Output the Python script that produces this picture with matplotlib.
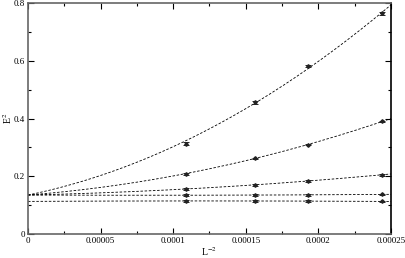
import numpy as np
import matplotlib
matplotlib.use('Agg')
from matplotlib import pyplot as plt
from matplotlib.ticker import MultipleLocator, FuncFormatter

# lattice sizes -> x = L^-2
L = np.array([96, 80, 72, 64])
x = 1.0 / L**2

# energies, one series per curve
e_top = [0.313, 0.457, 0.582, 0.764]
e_second = [0.209, 0.262, 0.310, 0.390]
e_third = [0.155, 0.171, 0.184, 0.205]
e_fourth = [0.134, 0.135, 0.136, 0.137]
e_fifth = [0.115, 0.114, 0.114, 0.113]
err_top = [0.006, 0.005, 0.005, 0.006]
err_small = [0.003, 0.003, 0.003, 0.003]

# extrapolated intercepts at L -> infinity
intercepts = [0.135, 0.135, 0.135, 0.135, 0.113]

series = [e_top, e_second, e_third, e_fourth, e_fifth]
errors = [err_top, err_small, err_small, err_small, err_small]

plt.rcParams['font.family'] = ['Liberation Serif', 'DejaVu Serif']
plt.rcParams['mathtext.fontset'] = 'stix'

fig = plt.figure(figsize=(4.06, 2.58), dpi=100)
ax = fig.add_axes([0.069, 0.093, 0.894, 0.895])

xs = np.linspace(0, 0.00025, 200)
for y, err, a in zip(series, errors, intercepts):
    y = np.array(y)
    # quadratic fit with fixed intercept
    A = np.vstack([x, x**2]).T
    b, c = np.linalg.lstsq(A, y - a, rcond=None)[0]
    ax.plot(xs, a + b * xs + c * xs**2, color='black', linestyle=(0, (3, 2)), linewidth=0.6)
    ax.errorbar(x, y, yerr=err, fmt='D', color='#222222', markersize=1.8,
                elinewidth=0.7, capsize=2.2, capthick=0.7)

ax.set_xlim(0, 0.00025)
ax.set_ylim(0, 0.8)
ax.xaxis.set_major_locator(MultipleLocator(0.00005))
ax.xaxis.set_minor_locator(MultipleLocator(0.000025))
ax.yaxis.set_major_locator(MultipleLocator(0.2))
ax.yaxis.set_minor_locator(MultipleLocator(0.1))
ax.xaxis.set_major_formatter(FuncFormatter(lambda v, p: '0' if v == 0 else ('%.5f' % v).rstrip('0')))
ax.yaxis.set_major_formatter(FuncFormatter(lambda v, p: '0' if v == 0 else ('%.1f' % v)))

ax.tick_params(which='both', direction='in', top=True, right=True, labelsize=6.5, pad=2)
ax.tick_params(which='major', length=4, width=0.8)
ax.tick_params(which='minor', length=2, width=0.8)
for s in ['left', 'bottom', 'top']:
    ax.spines[s].set_color('#666666')
    ax.spines[s].set_linewidth(1.2)
ax.spines['right'].set_linewidth(1.2)

ax.set_xlabel(r'L$^{-2}$', fontsize=7, labelpad=0)
ax.set_ylabel(r'E$^{2}$', fontsize=7, labelpad=0)

plt.savefig('out.png', dpi=100)
plt.close()
